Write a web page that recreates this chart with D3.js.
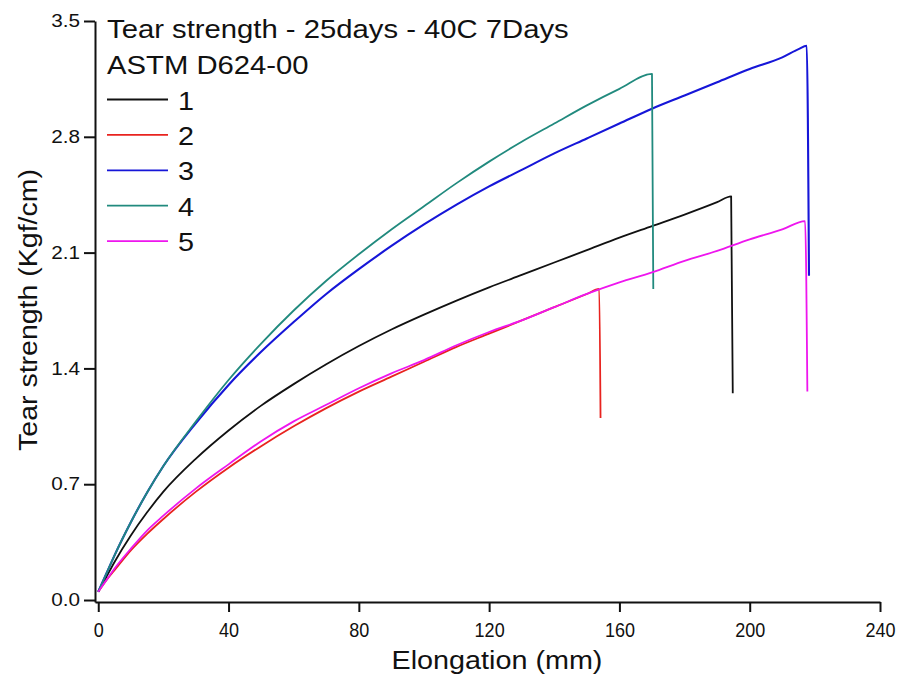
<!DOCTYPE html>
<html>
<head>
<meta charset="utf-8">
<script src="https://cdn.jsdelivr.net/npm/d3@7"></script>
<style>
  html, body { margin: 0; padding: 0; background: #fff; }
  svg { display: block; }
  text { font-family: "Liberation Sans", Arial, sans-serif; fill: #111; }
</style>
</head>
<body>
<svg id="chart" width="902" height="678"></svg>
<script>
// Tear test curves: elongation (mm) vs tear strength (Kgf/cm)
const sampleNames = ["1", "2", "3", "4", "5"];
const sampleColors = ["#111111", "#e8231f", "#1616d8", "#218a7e", "#ee16ee"];

const elong1 = [0, 2.5, 5, 10, 15, 20, 30, 40, 50, 60, 70, 80, 90, 100, 110, 120, 130, 140, 150, 160, 170, 180, 190, 194.3, 194.8];
const tear1  = [0.05, 0.14, 0.23, 0.39, 0.53, 0.655, 0.855, 1.025, 1.175, 1.305, 1.425, 1.535, 1.635, 1.725, 1.81, 1.89, 1.965, 2.04, 2.115, 2.19, 2.26, 2.33, 2.405, 2.44, 1.25];

const elong2 = [0, 2.5, 5, 10, 15, 20, 30, 40, 50, 60, 70, 80, 90, 100, 110, 120, 130, 140, 150, 153.8, 154.2];
const tear2  = [0.05, 0.12, 0.18, 0.30, 0.40, 0.49, 0.655, 0.80, 0.93, 1.05, 1.16, 1.26, 1.35, 1.44, 1.53, 1.61, 1.69, 1.77, 1.85, 1.88, 1.10];

const elong3 = [0, 2.5, 5, 10, 15, 20, 30, 40, 50, 60, 70, 80, 90, 100, 110, 120, 130, 140, 150, 160, 170, 180, 190, 200, 210, 215, 217.5, 218.2];
const tear3  = [0.05, 0.16, 0.27, 0.47, 0.65, 0.81, 1.07, 1.30, 1.50, 1.68, 1.85, 2.00, 2.14, 2.27, 2.39, 2.50, 2.60, 2.70, 2.79, 2.88, 2.97, 3.05, 3.13, 3.21, 3.28, 3.33, 3.35, 1.96];

const elong4 = [0, 2.5, 5, 10, 15, 20, 30, 40, 50, 60, 70, 80, 90, 100, 110, 120, 130, 140, 150, 160, 170, 170.4];
const tear4  = [0.05, 0.16, 0.27, 0.47, 0.65, 0.81, 1.08, 1.33, 1.55, 1.75, 1.93, 2.09, 2.24, 2.38, 2.52, 2.65, 2.77, 2.88, 2.99, 3.09, 3.18, 1.88];

const elong5 = [0, 2.5, 5, 10, 15, 20, 30, 40, 50, 60, 70, 80, 90, 100, 110, 120, 130, 140, 150, 160, 170, 180, 190, 200, 210, 217, 217.7];
const tear5  = [0.05, 0.12, 0.19, 0.31, 0.42, 0.51, 0.675, 0.82, 0.96, 1.08, 1.18, 1.28, 1.37, 1.45, 1.54, 1.62, 1.69, 1.77, 1.85, 1.92, 1.98, 2.05, 2.11, 2.18, 2.24, 2.29, 1.26];

const xTicks = [0, 40, 80, 120, 160, 200, 240];
const yTicks = [0.0, 0.7, 1.4, 2.1, 2.8, 3.5];

const legendTitle = ["Tear strength - 25days - 40C 7Days", "ASTM D624-00"];
const xTitle = "Elongation (mm)";
const yTitle = "Tear strength (Kgf/cm)";

const series = [
  [elong1, tear1], [elong2, tear2], [elong3, tear3], [elong4, tear4], [elong5, tear5]
].map(([xs, ys], i) => ({
  name: sampleNames[i],
  color: sampleColors[i],
  points: xs.map((x, j) => ({ x, y: ys[j] }))
}));

const svg = d3.select("#chart");
const x = d3.scaleLinear().domain([-1, 240]).range([95, 880]);
const y = d3.scaleLinear().domain([-0.012, 3.5]).range([602, 21]);

// adjust glyph run widths so text proportions follow the plotting program's font
function stretch(sel, k = 1.15) {
  sel.each(function () {
    const w = this.getComputedTextLength();
    d3.select(this).attr("textLength", w * k).attr("lengthAdjust", "spacingAndGlyphs");
  });
}

// curves (drawn first so axes sit on top)
const line = d3.line().x(d => x(d.x)).y(d => y(d.y)).curve(d3.curveMonotoneX);
svg.append("g").selectAll("path")
  .data(series)
  .join("path")
  .attr("fill", "none")
  .attr("stroke", d => d.color)
  .attr("stroke-width", d => d.name === "3" ? 2.1 : 1.8)
  .attr("stroke-linejoin", "round")
  .attr("d", d => line(d.points));

// axes
const xAxis = svg.append("g")
  .attr("transform", `translate(0,${y.range()[0]})`)
  .call(d3.axisBottom(x).tickValues(xTicks).tickFormat(d3.format("d")).tickSize(10).tickSizeOuter(0).tickPadding(11));
const yAxis = svg.append("g")
  .attr("transform", `translate(${x.range()[0]},0)`)
  .call(d3.axisLeft(y).tickValues(yTicks).tickFormat(d3.format(".1f")).tickSize(11).tickSizeOuter(0).tickPadding(4));

[xAxis, yAxis].forEach(a => {
  a.select(".domain").attr("stroke", "#111").attr("stroke-width", 2);
  a.selectAll(".tick line").attr("stroke", "#111").attr("stroke-width", 2);
  a.selectAll(".tick text").attr("fill", "#111")
    .attr("font-family", "Liberation Sans, Arial, sans-serif");
});
xAxis.selectAll(".tick text").attr("font-size", 20).call(stretch, 0.9);
yAxis.selectAll(".tick text").attr("font-size", 18).call(stretch, 1.15);

// axis titles
svg.append("text")
  .attr("x", 497).attr("y", 669)
  .attr("text-anchor", "middle")
  .attr("font-size", 25)
  .text(xTitle)
  .call(stretch, 1.15);

svg.append("text")
  .attr("transform", "translate(37,310) rotate(-90)")
  .attr("text-anchor", "middle")
  .attr("font-size", 25)
  .text(yTitle)
  .call(stretch, 1.14);

// legend block
const legend = svg.append("g").attr("transform", "translate(107,0)");
legend.selectAll("text.title")
  .data(legendTitle)
  .join("text")
  .attr("class", "title")
  .attr("x", 0)
  .attr("y", (d, i) => 38 + i * 36)
  .attr("font-size", 25)
  .text(d => d)
  .call(stretch, 1.17);

const items = legend.selectAll("g.item")
  .data(series)
  .join("g")
  .attr("class", "item")
  .attr("transform", (d, i) => `translate(0,${99.5 + i * 35.4})`);
items.append("line")
  .attr("x1", 0).attr("x2", 61)
  .attr("stroke", d => d.color)
  .attr("stroke-width", 1.8);
items.append("text")
  .attr("x", 71).attr("y", 10)
  .attr("font-size", 25)
  .text(d => d.name)
  .call(stretch, 1.15);
</script>
</body>
</html>
